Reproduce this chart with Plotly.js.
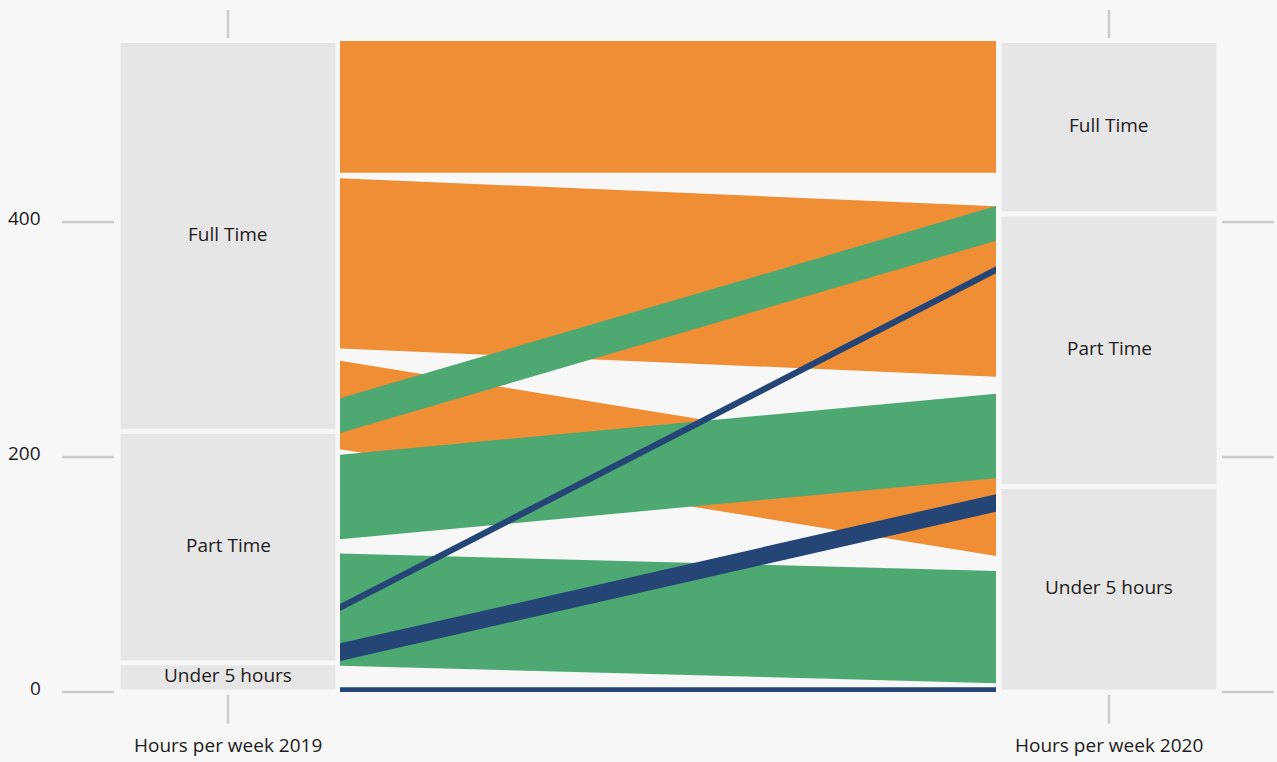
<!DOCTYPE html>
<html>
<head>
<meta charset="utf-8">
<script src="https://cdn.plot.ly/plotly-3.0.1.min.js"></script>
<style>html,body{margin:0;padding:0;background:#f7f7f7;}#chart{width:1277px;height:762px;}</style>
</head>
<body>
<div id="chart"></div>
<script>
// ---- data ----
const categories = ["Full Time", "Part Time", "Under 5 hours"];
const years = ["Hours per week 2019", "Hours per week 2020"];
const flowSource = ["Full Time","Full Time","Full Time","Part Time","Part Time","Part Time","Under 5 hours","Under 5 hours","Under 5 hours"];
const flowTarget = ["Full Time","Part Time","Under 5 hours","Full Time","Part Time","Under 5 hours","Full Time","Part Time","Under 5 hours"];
const flowValue  = [112, 145, 75.5, 29.5, 72, 95.5, 6, 15, 4];
// ribbon base (lower edge) on each axis
const flowBase2019 = [442, 292.3, 206.5, 220.4, 130, 22.4, 69, 26.4, 0];
const flowBase2020 = [442, 268.4, 115.7, 384.1, 181.9, 7.4, 356.3, 153.4, 0];
const yTickVals = [0, 200, 400];
const yTickText = ["0", "200", "400"];

// ---- styles ----
const colorBySource = {"Full Time": "#f08e36", "Part Time": "#4ea872", "Under 5 hours": "#244576"};
const font = {family: "Open Sans, Noto Sans, sans-serif", size: 19, color: "#1e1b1c"};
const pxPerUnitX = 881, pxPerUnitY = 1.175;
const blockHalf = 110 / pxPerUnitX;
const flowX0 = 112 / pxPerUnitX, flowX1 = 1 - 113 / pxPerUnitX;

const traces = [];
categories.forEach(src => {
  flowSource.forEach((s, i) => {
    if (s !== src) return;
    const v = flowValue[i], a = flowBase2019[i], b = flowBase2020[i];
    traces.push({
      type: "scatter", mode: "lines", fill: "toself",
      x: [flowX0, flowX1, flowX1, flowX0, flowX0],
      y: [a, b, b + v, a + v, a],
      line: {width: 0, color: colorBySource[s]},
      fillcolor: colorBySource[s],
      hoverinfo: "text",
      text: s + " → " + flowTarget[i] + ": " + v,
      showlegend: false
    });
  });
});

const shapes = [];
const annotations = [];
// stacked blocks per year
[flowSource, flowTarget].forEach((keyArr, yi) => {
  let bottom = 0;
  categories.slice().reverse().forEach(cat => {
    let tot = 0;
    keyArr.forEach((k, i) => { if (k === cat) tot += flowValue[i]; });
    shapes.push({type: "rect", xref: "x", yref: "y", layer: "below",
      x0: yi - blockHalf, x1: yi + blockHalf, y0: bottom, y1: bottom + tot,
      fillcolor: "#e6e6e6", line: {color: "#f7f7f7", width: 5}});
    annotations.push({x: yi, y: bottom + tot / 2, xref: "x", yref: "y", text: cat,
      showarrow: false, font: font, xanchor: "center", yanchor: "middle", yshift: 2});
    bottom += tot;
  });
  // axis title
  annotations.push({x: yi, y: -45 , xref: "x", yref: "y", text: years[yi],
    showarrow: false, font: font, xanchor: "center", yanchor: "middle"});
  // small vertical marks above and below each axis
  const top = 554;
  shapes.push({type: "line", xref: "x", yref: "y", x0: yi, x1: yi, y0: top + 2.5, y1: top + 26.5,
    line: {color: "#cccccc", width: 2.5}});
  shapes.push({type: "line", xref: "x", yref: "y", x0: yi, x1: yi, y0: -2.5, y1: -27,
    line: {color: "#cccccc", width: 2.5}});
});
// y ticks
yTickVals.forEach((v, i) => {
  shapes.push({type: "line", xref: "x", yref: "y", x0: -166 / pxPerUnitX, x1: -114 / pxPerUnitX, y0: v, y1: v,
    line: {color: "#cccccc", width: 2.5}});
  shapes.push({type: "line", xref: "x", yref: "y", x0: 1 + 113 / pxPerUnitX, x1: 1 + 165 / pxPerUnitX, y0: v, y1: v,
    line: {color: "#cccccc", width: 2.5}});
  annotations.push({x: -185 / pxPerUnitX, y: v + 3, xref: "x", yref: "y", text: yTickText[i],
    showarrow: false, font: font, xanchor: "right", yanchor: "middle"});
});

const layout = {
  width: 1277, height: 762,
  margin: {l: 0, r: 0, t: 0, b: 0, pad: 0},
  paper_bgcolor: "#f7f7f7", plot_bgcolor: "#f7f7f7",
  xaxis: {range: [-228 / pxPerUnitX, 1 + 168 / pxPerUnitX], visible: false, fixedrange: true},
  yaxis: {range: [-70 / pxPerUnitY, 692 / pxPerUnitY], visible: false, fixedrange: true},
  shapes: shapes, annotations: annotations, showlegend: false
};
Plotly.newPlot("chart", traces, layout, {displayModeBar: false, staticPlot: true});
</script>
</body>
</html>
